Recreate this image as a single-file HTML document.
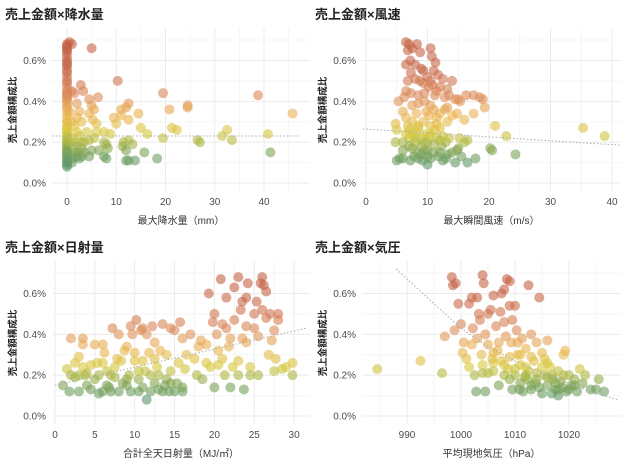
<!DOCTYPE html>
<html><head><meta charset="utf-8"><style>
body{margin:0;background:#fff;}
svg{display:block;font-family:"Liberation Sans","Noto Sans CJK JP",sans-serif;}
</style></head><body>
<svg id="chart" width="621" height="466"></svg>
<script>
const p1X=[0,0,0,0,0,0,0,0,0,0,0,0,0,0,0,0,0,0,0,0,0,0,0,0,0,0,0,0,0,0,0,0,0,0,0,0,0,0,0,0,0,0,0,0,0,0,0,0,0,0.5,1,1,1.5,2,1,5,10.3,2.8,1.5,3.3,4.5,6.3,5,5.5,2,4.5,3,5.2,6,2.5,19.5,38.8,45.8,24.5,24.5,20.8,12.5,12,11,11,9.5,12.5,14.5,10,15,21.3,22.3,32.5,16.3,8.8,31.5,40.8,26.5,27,33.5,19.5,12.5,13.3,11.5,11.3,12,15.7,41.3,7.5,8,6,7.5,5.5,4.5,6.5,5,3.5,2.5,3,4.5,7.5,8,12,12.5,13.8,18.3,8.3,2,3,1.5,0.5,1,1.5,2,2.5,3,3.5,1,2,4,1,0.5,2];
const p1Y=[0.68,0.67,0.66,0.65,0.64,0.62,0.6,0.59,0.58,0.57,0.55,0.54,0.52,0.5,0.49,0.47,0.45,0.44,0.43,0.42,0.41,0.4,0.38,0.37,0.35,0.33,0.31,0.3,0.28,0.27,0.26,0.25,0.24,0.23,0.22,0.21,0.2,0.19,0.18,0.17,0.16,0.15,0.14,0.13,0.12,0.11,0.1,0.09,0.08,0.69,0.68,0.45,0.2,0.13,0.12,0.66,0.5,0.48,0.44,0.45,0.41,0.42,0.38,0.36,0.39,0.34,0.3,0.31,0.29,0.35,0.44,0.43,0.34,0.38,0.37,0.36,0.39,0.37,0.36,0.33,0.32,0.31,0.34,0.29,0.27,0.27,0.26,0.26,0.24,0.24,0.23,0.24,0.21,0.2,0.21,0.22,0.21,0.19,0.2,0.18,0.16,0.15,0.15,0.2,0.19,0.25,0.25,0.22,0.21,0.16,0.16,0.2,0.23,0.13,0.13,0.13,0.12,0.11,0.11,0.11,0.12,0.17,0.15,0.17,0.28,0.2,0.22,0.15,0.18,0.12,0.2,0.15,0.1,0.25,0.25,0.3,0.35,0.32];
const p2X=[6.5,7,7.5,8.3,6.8,8.8,7.2,6.5,8,9,9.3,10.5,10.7,11.3,11,7.3,6.8,8,8.8,9.3,10,10.5,10.2,10.8,11.7,12.5,12,11.5,13.2,14,13.5,11.2,12.8,15,16.3,17.5,18.5,19,19.3,17.5,16,13.2,12.8,13.2,12,11.5,10.5,9.5,8.5,7.5,6,5.3,6.2,6.5,7.3,8.5,9.5,14.5,15.3,14,14.8,21,35.3,38.8,22.8,20.2,20.5,24.3,16.5,16,15.2,17.8,16.5,14.5,14.8,13,12.3,11.5,10,9,8,7,6,4.8,5,4.8,5,5.5,6,7.2,7.8,8.5,9.2,10,10.5,11,11.8,12.5,13.3,14,15,15.5,8.3,9.5,9,7.5,6.8,7.5,8.5,9.3,10.5,11.2,12,8,9.5,10.3,6.5,7,12.5,13.5,6.5,10.2,11,9.8,8.2,7,8,9,10,11,12,13,9.5,10.5,8.5,11.5,7.5,6,10,12];
const p2Y=[0.69,0.68,0.66,0.68,0.65,0.64,0.6,0.58,0.58,0.56,0.55,0.66,0.62,0.59,0.55,0.54,0.5,0.51,0.5,0.49,0.52,0.5,0.47,0.48,0.53,0.51,0.47,0.45,0.46,0.5,0.43,0.43,0.42,0.41,0.43,0.43,0.42,0.41,0.37,0.34,0.31,0.3,0.36,0.37,0.34,0.32,0.38,0.4,0.39,0.38,0.35,0.4,0.42,0.45,0.44,0.43,0.44,0.41,0.4,0.33,0.34,0.28,0.27,0.23,0.23,0.17,0.16,0.14,0.21,0.2,0.22,0.12,0.1,0.1,0.16,0.2,0.18,0.22,0.2,0.22,0.2,0.22,0.2,0.2,0.26,0.29,0.11,0.12,0.12,0.11,0.13,0.12,0.11,0.09,0.12,0.15,0.13,0.11,0.14,0.15,0.17,0.13,0.15,0.16,0.18,0.17,0.28,0.3,0.27,0.3,0.28,0.26,0.27,0.25,0.24,0.23,0.24,0.26,0.23,0.22,0.32,0.33,0.36,0.35,0.34,0.18,0.22,0.14,0.16,0.19,0.15,0.12,0.2,0.24,0.28,0.29,0.24,0.16,0.13,0.21];
const p3X=[1,1.5,1.8,2,2,2.5,3,3,3.5,3.5,3.5,3.8,4,4.5,4.5,5,5.3,5.5,5.5,6,6,6.2,6.5,6.5,7,7.2,7.5,7.8,8,8,8.5,8.7,9,9.3,9.5,9.5,9.7,10,10,10.2,10.5,10.5,10.8,11,11.3,11.5,11.5,11.8,12,12.2,12.5,12.5,12.8,13,13.2,13.5,13.5,14,14,14.3,14.5,14.5,15,15.3,15.5,15.7,16,16,16.3,16.5,17,17.5,17.8,18,18.3,18.5,19,19.3,19.5,19.8,20,20,20.3,20.5,20.8,21,21.3,21.5,21.5,21.8,22,22.3,22.5,22.5,23,23,23.3,23.5,23.5,23.7,24,24,24.2,24.5,24.5,25,25,25.3,25.5,25.5,25.8,26,26,26.2,26.5,26.5,26.8,27,27.2,27.5,27.5,27.7,28,28,28.5,29,29.8,29.8,2.5,4,6.8,7.5,9,12,13.8,15,8.3,11,3,5,7,9,11,13,14.5,16,12.5,10.5,6,19,21,22,24,23,20.5];
const p3Y=[0.15,0.23,0.12,0.38,0.2,0.26,0.12,0.29,0.38,0.35,0.24,0.2,0.15,0.13,0.25,0.35,0.26,0.11,0.2,0.12,0.35,0.31,0.15,0.22,0.12,0.43,0.24,0.28,0.4,0.12,0.16,0.32,0.34,0.2,0.12,0.44,0.4,0.27,0.31,0.47,0.12,0.18,0.42,0.43,0.22,0.4,0.08,0.31,0.12,0.44,0.36,0.16,0.24,0.2,0.32,0.45,0.12,0.18,0.3,0.12,0.22,0.43,0.42,0.16,0.26,0.46,0.38,0.12,0.23,0.3,0.4,0.28,0.2,0.34,0.37,0.18,0.26,0.6,0.24,0.46,0.5,0.14,0.4,0.32,0.67,0.28,0.2,0.58,0.43,0.34,0.14,0.24,0.63,0.47,0.68,0.2,0.52,0.56,0.38,0.13,0.58,0.44,0.65,0.24,0.2,0.5,0.43,0.56,0.2,0.39,0.65,0.68,0.52,0.64,0.61,0.48,0.3,0.5,0.37,0.42,0.22,0.28,0.47,0.5,0.23,0.24,0.2,0.26,0.19,0.21,0.14,0.19,0.18,0.2,0.15,0.12,0.27,0.27,0.2,0.18,0.2,0.15,0.14,0.13,0.16,0.14,0.28,0.22,0.26,0.35,0.45,0.38,0.36,0.27,0.25];
const p4X=[984.5,992.5,996.5,997,998.3,998.5,999,999.5,998.8,1000,1000.5,1000.3,1001,1001.5,1001.5,1002,1002.2,1002.5,1002.8,1003,1003.3,1003.5,1003.8,1004,1004.2,1004.5,1004.5,1005,1005,1005.5,1005.8,1006,1006,1006.5,1006.8,1007,1007.3,1007.5,1007.5,1008,1008,1008.3,1008.5,1008.7,1009,1009,1009.3,1009.5,1009.5,1010,1010,1010.3,1010.5,1010.8,1011,1011.3,1011.5,1011.8,1012,1012.5,1012.5,1013,1013,1013.5,1013.8,1014,1014.5,1014.5,1015,1015,1015.5,1016,1016,1016.5,1016.8,1017,1017.5,1018,1018,1018.5,1019,1019.3,1019.5,1020,1020.5,1021,1021.5,1022,1022.5,1023,1024,1025,1025.5,1026.5,1011,1012,1014,1007,1006,1003,1009,1010.5,1013,1015.5,1017,1018.8,1008,1005,1002,1004,1016,1020,1012.3,1008,1010,1012,1014,1016,1017.5,1019,1011,1006,1004,1013,1015,1018,1021,1009];
const p4Y=[0.23,0.27,0.21,0.39,0.68,0.64,0.65,0.55,0.42,0.45,0.36,0.31,0.28,0.55,0.24,0.58,0.43,0.2,0.12,0.58,0.5,0.47,0.3,0.69,0.65,0.12,0.4,0.5,0.35,0.52,0.28,0.59,0.22,0.44,0.32,0.15,0.51,0.6,0.27,0.62,0.46,0.39,0.67,0.23,0.66,0.54,0.36,0.47,0.13,0.2,0.54,0.42,0.3,0.13,0.25,0.38,0.12,0.19,0.33,0.64,0.22,0.13,0.4,0.27,0.16,0.36,0.58,0.14,0.31,0.11,0.2,0.37,0.15,0.24,0.11,0.2,0.13,0.22,0.1,0.17,0.3,0.32,0.12,0.2,0.15,0.18,0.12,0.23,0.16,0.2,0.13,0.13,0.18,0.12,0.16,0.24,0.21,0.36,0.26,0.38,0.29,0.36,0.29,0.28,0.18,0.14,0.2,0.21,0.35,0.25,0.26,0.13,0.18,0.25,0.23,0.2,0.18,0.19,0.16,0.2,0.3,0.31,0.21,0.15,0.24,0.13,0.15,0.18];
const trend1X=[-3,47],trend1Y=[0.23,0.23];
const trend2X=[-0.5,41.5],trend2Y=[0.265,0.185];
const trend3X=[0,31.5],trend3Y=[0.15,0.43];
const trend4X=[988,995,1000,1005,1010,1015,1020,1025,1029],trend4Y=[0.72,0.55,0.43,0.34,0.27,0.21,0.16,0.11,0.08];
const yTicks=[0,0.2,0.4,0.6],yTickLabels=["0.0%","0.2%","0.4%","0.6%"];
const panels=[
 {name:"rain",title:"売上金額×降水量",xt:"最大降水量（mm）",X:p1X,Y:p1Y,tx:trend1X,ty:trend1Y,ox:0,oy:0,x0:0,px0:67,k:4.925,xmin:-3,xmax:49,ticks:[0,10,20,30,40]},
 {name:"wind",title:"売上金額×風速",xt:"最大瞬間風速（m/s）",X:p2X,Y:p2Y,tx:trend2X,ty:trend2Y,ox:310,oy:0,x0:0,px0:56,k:6.15,xmin:-0.5,xmax:41.5,ticks:[0,10,20,30,40]},
 {name:"solar",title:"売上金額×日射量",xt:"合計全天日射量（MJ/㎡）",X:p3X,Y:p3Y,tx:trend3X,ty:trend3Y,ox:0,oy:233,x0:0,px0:55,k:7.97,xmin:-0.3,xmax:32,ticks:[0,5,10,15,20,25,30]},
 {name:"pressure",title:"売上金額×気圧",xt:"平均現地気圧（hPa）",X:p4X,Y:p4Y,tx:trend4X,ty:trend4Y,ox:310,oy:233,x0:990,px0:97,k:5.4,xmin:982,xmax:1030,ticks:[990,1000,1010,1020]}
];
const NS="http://www.w3.org/2000/svg";
const svg=document.getElementById('chart');
function mk(tag,at,parent){const e=document.createElementNS(NS,tag);for(const k in at)e.setAttribute(k,at[k]);(parent||svg).appendChild(e);return e;}
const stops=[[0.08,[90,150,110]],[0.16,[130,165,80]],[0.24,[215,200,60]],[0.33,[235,180,80]],[0.42,[220,140,90]],[0.55,[200,105,75]],[0.7,[195,95,65]]];
function col(v){for(let i=0;i<stops.length-1;i++){const a=stops[i],b=stops[i+1];if(v<=b[0]||i==stops.length-2){let t=Math.max(0,Math.min(1,(v-a[0])/(b[0]-a[0])));return 'rgb('+a[1].map((c,j)=>Math.round(c+(b[1][j]-c)*t)).join(',')+')';}}}
panels.forEach(p=>{
 const g=mk('g',{});
 
 
 const sx=v=>p.ox+p.px0+(v-p.x0)*p.k;
 const sy=v=>p.oy+183-v*204.2;
 const L=p.ox+52,R=p.ox+(p.ox?311:310),T=p.oy+28,B=p.oy+191;
 const step=p.ticks[1]-p.ticks[0];
 for(let v=p.ticks[0]-step/2;v<=p.xmax;v+=step/2){const x=sx(v);if(x<L||x>R)continue;mk('line',{x1:x,x2:x,y1:T,y2:B,stroke:(Math.abs((v-p.ticks[0])%step)<1e-6)?'#ebebeb':'#f5f5f5','stroke-width':1},g);}
 for(let v=-0.1;v<=0.71;v+=0.1){const y=sy(v);if(y<T||y>B)continue;mk('line',{x1:L,x2:R,y1:y,y2:y,stroke:(Math.round(v*10)%2==0)?'#ebebeb':'#f5f5f5','stroke-width':1},g);}
 yTicks.forEach((v,i)=>{const t=mk('text',{x:p.ox+46,y:sy(v)+3.5,'text-anchor':'end','font-size':10,fill:'#4d4d4d'},g);t.textContent=yTickLabels[i];
  
  });
 p.ticks.forEach(v=>{const t=mk('text',{x:sx(v),y:p.oy+205,'text-anchor':'middle','font-size':10,fill:'#4d4d4d'},g);t.textContent=v;
  
  });
 const dg=mk('g',{},g);
 
 
 p.X.forEach((x,i)=>{const c=mk('circle',{cx:sx(x),cy:sy(p.Y[i]),r:5,fill:col(p.Y[i]),'fill-opacity':0.6},dg);
  
  });
 const pts=p.tx.map((x,i)=>[Math.max(L,Math.min(R,sx(x))),sy(p.ty[i])]).filter(q=>q[1]>=T-2);
 const tl=mk('polyline',{points:pts.map(q=>q.join(',')).join(' '),fill:'none',stroke:'#aaa','stroke-width':1,'stroke-dasharray':'1.5,2'},g);
 
 
 const ti=mk('text',{x:p.ox+5,y:p.oy+19,'font-size':13,'font-weight':'bold',fill:'#222'},g);ti.textContent=p.title;
 
 
 const xt=mk('text',{x:(L+R)/2,y:p.oy+224,'text-anchor':'middle','font-size':10,fill:'#333'},g);xt.textContent=p.xt;
 
 
 const yc=p.oy+110;
 const yt=mk('text',{x:p.ox+16,y:yc,'text-anchor':'middle','font-size':9.5,'font-weight':'bold',fill:'#222',transform:'rotate(-90 '+(p.ox+16)+' '+yc+')'},g);yt.textContent='売上金額構成比';
 
 
});
</script>
</body></html>
